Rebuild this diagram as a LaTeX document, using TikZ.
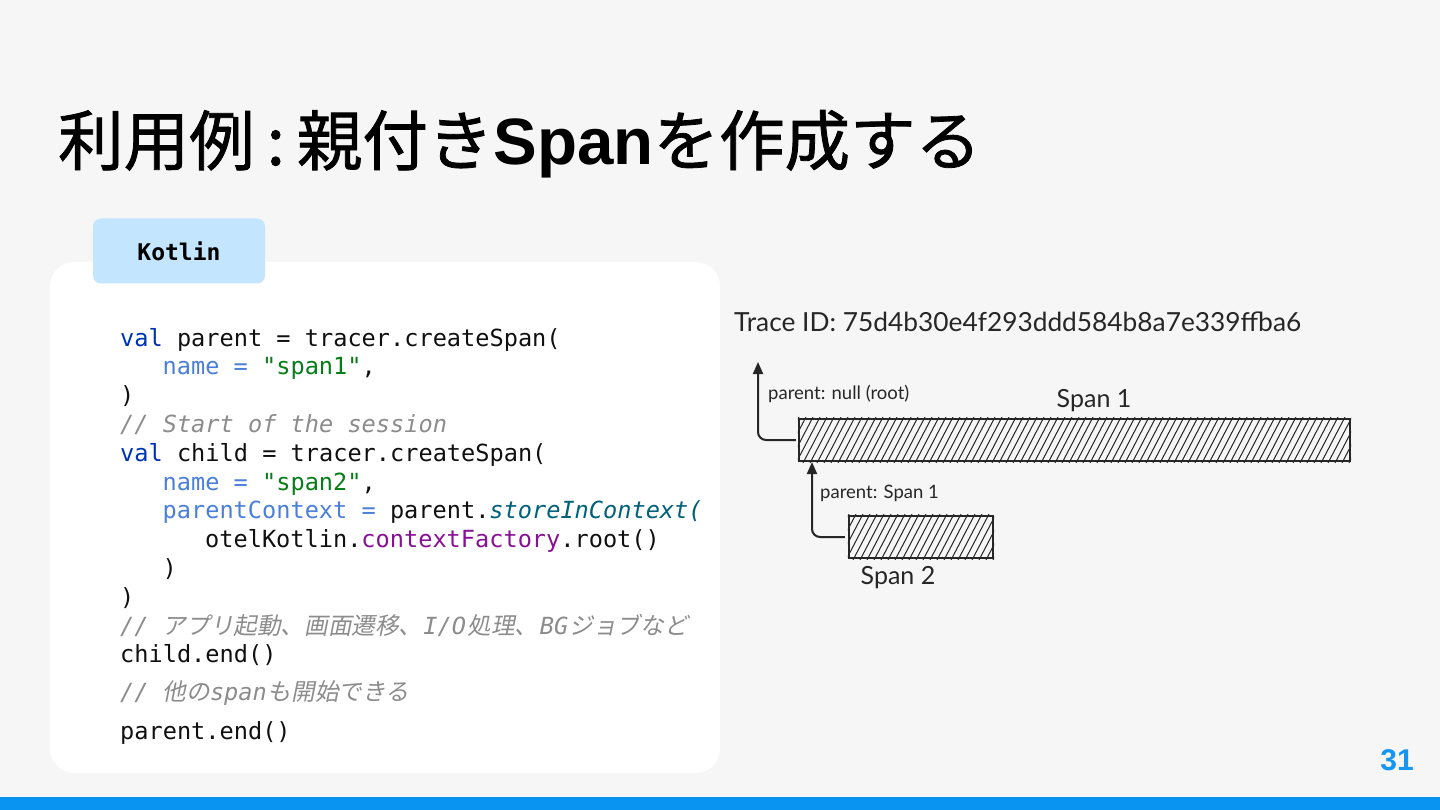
\documentclass[tikz,border=0pt]{standalone}
\usepackage{fontspec}
\usetikzlibrary{arrows.meta}
\setmainfont{Liberation Sans}
\newfontfamily\jpfont[FakeBold=1.2]{Noto Sans CJK JP}
\newfontfamily\jpitfont[FakeSlant=0.2]{Noto Sans CJK JP}
\newfontfamily\monofont{DejaVu Sans Mono}
\newfontfamily\handfont{Lato}
\definecolor{bg}{HTML}{F6F6F6}
\definecolor{tabblue}{HTML}{C4E5FE}
\definecolor{ckwc}{HTML}{0033B3}
\definecolor{cargc}{HTML}{4A7FDA}
\definecolor{cstrc}{HTML}{067D17}
\definecolor{cfnc}{HTML}{00627A}
\definecolor{cpropc}{HTML}{871094}
\definecolor{ccmtc}{HTML}{8C8C8C}
\definecolor{ctxt}{HTML}{101010}
\definecolor{barblue}{HTML}{0A94F2}
\definecolor{pgblue}{HTML}{1596F3}
\newcommand\ckw[1]{\textcolor{ckwc}{#1}}
\newcommand\carg[1]{\textcolor{cargc}{#1}}
\newcommand\cstr[1]{\textcolor{cstrc}{#1}}
\newcommand\cfn[1]{\textcolor{cfnc}{\itshape #1}}
\newcommand\cprop[1]{\textcolor{cpropc}{#1}}
\newcommand\cjki[1]{{\jpitfont #1}}
\begin{document}
\begin{tikzpicture}[x=1pt,y=-1pt,
  codeline/.style={anchor=base west, inner sep=0pt, font=\monofont\fontsize{23.6}{26}\selectfont, text=ctxt},
  cmtline/.style={codeline, text=ccmtc, font=\monofont\itshape\fontsize{23.6}{26}\selectfont},
  handtext/.style={anchor=west, inner sep=0pt, font=\handfont\fontsize{18.5}{20}\selectfont, text=black!85},
  spanlabel/.style={inner sep=0pt, font=\handfont\fontsize{25}{27}\selectfont, text=black!85},
  spanbar/.style={draw=black!85, line width=2.2pt, inner sep=0pt, fill=none},
  hatchline/.style={line width=1pt, black!85},
  parentarrow/.style={line width=2pt, black!85, rounded corners=8pt, -{Triangle[length=12pt,width=10pt]}}
]
\useasboundingbox (0,0) rectangle (1440,810);
\fill[bg] (0,0) rectangle (1440,810);
\fill[barblue] (0,797) rectangle (1440,810);

% title
\node[anchor=base west, inner sep=0pt, font=\jpfont\fontsize{65.5}{70}\selectfont] (title) at (58,165)
  {利用例\hspace{12pt}:\hspace{12pt}親付き{\rmfamily\bfseries Span}を作成する};

% code card
\node[fill=white, rounded corners=24pt, minimum width=670pt, minimum height=511pt, inner sep=0pt] (card) at (385,517.5) {};
\node[fill=tabblue, rounded corners=8pt, minimum width=172pt, minimum height=65pt, inner sep=0pt,
      font=\monofont\bfseries\fontsize{23}{26}\selectfont, text=black] (tab) at (179,251) {Kotlin};

\node[codeline] (c1) at (120,346) {\ckw{val} parent = tracer.createSpan(};
\node[codeline] (c2) at (162.5,374.8) {\carg{name =} \cstr{"span1"},};
\node[codeline] (c3) at (120,403.6) {)};
\node[cmtline] (c4) at (120,432.4) {// Start of the session};
\node[codeline] (c5) at (120,461.2) {\ckw{val} child = tracer.createSpan(};
\node[codeline] (c6) at (162.5,490) {\carg{name =} \cstr{"span2"},};
\node[codeline] (c7) at (162.5,518.8) {\carg{parentContext =} parent.\cfn{storeInContext(}};
\node[codeline] (c8) at (205,547.6) {otelKotlin.\cprop{contextFactory}.root()};
\node[codeline] (c9) at (162.5,576.4) {)};
\node[codeline] (c10) at (120,605.2) {)};
\node[cmtline, text depth=1pt] (c11) at (120,634) {// \cjki{アプリ起動、画面遷移、}\hspace{1pt}I/O\hspace{1.5pt}\cjki{処理、}\hspace{1.5pt}BG\hspace{1.5pt}\cjki{ジョブなど}};
\node[codeline, text height=16pt] (c12) at (120,662.8) {child.end()};
\node[cmtline] (c13) at (120,700) {// \cjki{他の}span\hspace{1pt}\cjki{も開始できる}};
\node[codeline] (c14) at (120,739) {parent.end()};

% diagram
\node[anchor=base west, inner sep=0pt, font=\handfont\fontsize{26.3}{28}\selectfont, text=black!85] (trace) at (734,331)
  {Trace ID: 75d4b30e4f293ddd584b8a7e339ffba6};

\node[spanbar, minimum width=551pt, minimum height=42pt] (s1) at (1074.5,440) {};
\node[spanbar, minimum width=144pt, minimum height=42pt] (s2) at (921,537) {};

\begin{scope}
  \clip (s1.south west) rectangle (s1.north east);
  \foreach \i in {0,...,84} \draw[hatchline] ({775+\i*7},463) -- ++(24,-46);
\end{scope}
\begin{scope}
  \clip (s2.south west) rectangle (s2.north east);
  \foreach \i in {0,...,25} \draw[hatchline] ({825+\i*7},560) -- ++(24,-46);
\end{scope}
\node[spanbar, minimum width=551pt, minimum height=42pt] at (s1) {};
\node[spanbar, minimum width=144pt, minimum height=42pt] at (s2) {};

\node[spanlabel] (l1) at (1094,401) {Span 1};
\node[spanlabel] (l2) at (898,578) {Span 2};
\node[handtext] (p1) at (768,394) {parent: null (root)};
\node[handtext] (p2) at (820,493) {parent: Span 1};

\coordinate (roottip) at (758,362);
\coordinate (childtip) at (812,462);
\draw[parentarrow] ([xshift=-2pt]s1.west) -| (roottip);
\draw[parentarrow] ([xshift=-3pt]s2.west) -| (childtip);

% page number
\node[anchor=base east, inner sep=0pt, font=\bfseries\fontsize{30}{30}\selectfont, text=pgblue] (pg) at (1414,770) {31};
\end{tikzpicture}
\end{document}
